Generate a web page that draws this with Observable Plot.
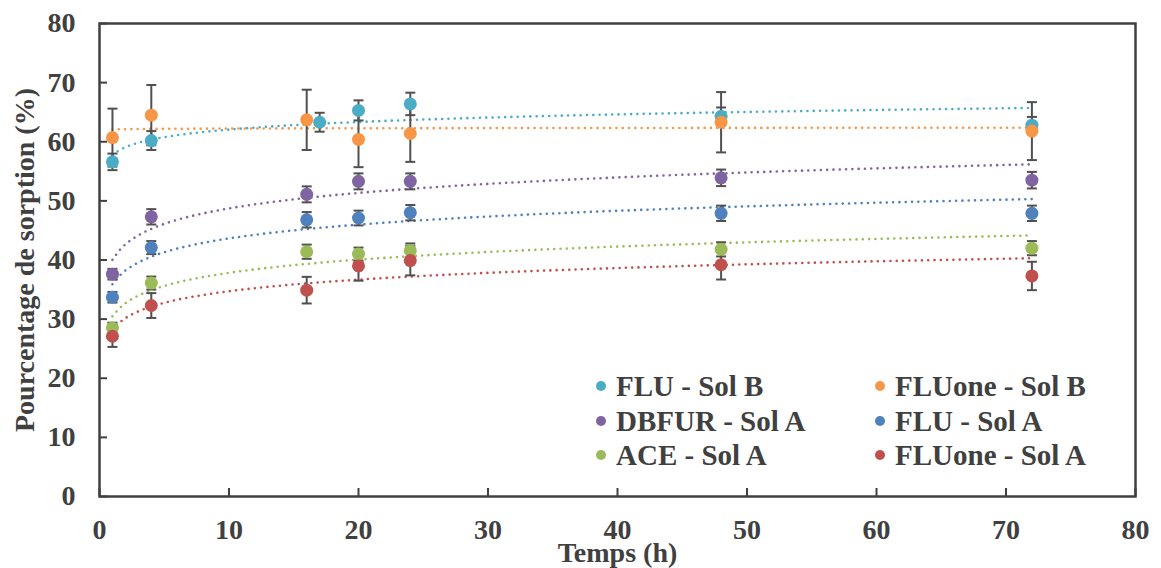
<!DOCTYPE html>
<html><head><meta charset="utf-8">
<script src="https://cdn.jsdelivr.net/npm/d3@7"></script>
<script src="https://cdn.jsdelivr.net/npm/@observablehq/plot@0.6"></script>
<style>
body{margin:0;background:#fff;}
#wrap{position:relative;width:1161px;height:568px;font-family:"Liberation Serif","Times New Roman",serif;font-weight:bold;color:#404040;}
#legend{position:absolute;left:596px;top:369px;display:grid;grid-template-columns:279px auto;grid-auto-rows:34.5px;font-size:29px;line-height:34.5px;}
.item{display:flex;align-items:center;white-space:nowrap;}
.sw{width:10px;height:10px;border-radius:50%;margin-right:10px;flex:none;}
</style></head><body><div id="wrap"><div id="legend"></div></div>
<script>
// Series (legend order)
const series = ["FLU - Sol B", "FLUone - Sol B", "DBFUR - Sol A", "FLU - Sol A", "ACE - Sol A", "FLUone - Sol A"];
const colors = ["#4BACC6", "#F79646", "#8064A2", "#4F81BD", "#9BBB59", "#C0504D"];

// Sampling times (h)
const timesFluB = [1, 4, 17, 20, 24, 48, 72];
const timesOther = [1, 4, 16, 20, 24, 48, 72];

// Sorption percentages and error bars
const valFluB = [56.6, 60.2, 63.3, 65.3, 66.4, 64.3, 62.8];
const errFluB = [1.4, 1.6, 1.6, 1.7, 1.9, 1.5, 1.4];
const valFluoneB = [60.7, 64.5, 63.7, 60.4, 61.4, 63.3, 61.8];
const errFluoneB = [4.9, 5.1, 5.1, 4.7, 4.8, 5.1, 4.9];
const valDbfurA = [37.6, 47.3, 51.1, 53.3, 53.3, 53.9, 53.5];
const errDbfurA = [0.9, 1.3, 1.35, 1.35, 1.35, 1.4, 1.4];
const valFluA = [33.7, 42.1, 46.8, 47.1, 48.0, 47.9, 47.9];
const errFluA = [0.9, 1.1, 1.3, 1.25, 1.3, 1.3, 1.3];
const valAceA = [28.5, 36.1, 41.4, 41.0, 41.6, 41.8, 42.0];
const errAceA = [0.9, 1.1, 1.2, 1.1, 1.2, 1.2, 1.2];
const valFluoneA = [27.1, 32.3, 34.9, 39.0, 39.9, 39.2, 37.3];
const errFluoneA = [1.8, 2.1, 2.25, 2.5, 2.5, 2.5, 2.4];

// Axis ticks
const xTicks = [0, 10, 20, 30, 40, 50, 60, 70, 80];
const yTicks = [0, 10, 20, 30, 40, 50, 60, 70, 80];
const xTitle = "Temps (h)";
const yTitle = "Pourcentage de sorption (%)";

const seriesTimes = [timesFluB, timesOther, timesOther, timesOther, timesOther, timesOther];
const seriesVals = [valFluB, valFluoneB, valDbfurA, valFluA, valAceA, valFluoneA];
const seriesErrs = [errFluB, errFluoneB, errDbfurA, errFluA, errAceA, errFluoneA];

const rows = [];
series.forEach((s, i) => seriesTimes[i].forEach((t, j) =>
  rows.push({series: s, t, v: seriesVals[i][j], e: seriesErrs[i][j]})));

// Logarithmic trend lines (least squares of y on ln t), as in the source chart
const trend = [];
series.forEach((s, i) => {
  const lx = seriesTimes[i].map(Math.log), ys = seriesVals[i];
  const mx = d3.mean(lx), my = d3.mean(ys);
  const b = d3.sum(lx, (x, k) => (x - mx) * (ys[k] - my)) / d3.sum(lx, x => (x - mx) ** 2);
  const a = my - b * mx;
  const t0 = d3.min(seriesTimes[i]), t1 = d3.max(seriesTimes[i]);
  for (let t = t0; t <= t1 + 1e-9; t += 0.5) trend.push({series: s, t, y: a + b * Math.log(t)});
});

const cap = {draw(ctx) { ctx.moveTo(-5, 0); ctx.lineTo(5, 0); }};
const barColor = "#505050";
const axisColor = "#404040";
const serif = "'Liberation Serif', 'Times New Roman', serif";
const txt = {fontFamily: serif, fontWeight: "bold", fontSize: 28, fill: "#404040"};

const chart = Plot.plot({
  width: 1161, height: 568,
  marginLeft: 99, marginRight: 26, marginTop: 23, marginBottom: 72,
  style: {fontFamily: serif, fontWeight: "bold", fontSize: "28px", color: "#404040", background: "#fff", overflow: "visible"},
  x: {domain: [0, 80], label: null},
  y: {domain: [0, 80], label: null},
  color: {domain: series, range: colors},
  marks: [
    Plot.line(trend, {x: "t", y: "y", z: "series", stroke: "series", strokeWidth: 2.6, strokeDasharray: "0,6.3", strokeLinecap: "round"}),
    Plot.ruleX(rows, {x: "t", y1: d => d.v - d.e, y2: d => d.v + d.e, stroke: barColor, strokeWidth: 2}),
    Plot.dot(rows, {x: "t", y: d => d.v + d.e, symbol: cap, stroke: barColor, strokeWidth: 2}),
    Plot.dot(rows, {x: "t", y: d => d.v - d.e, symbol: cap, stroke: barColor, strokeWidth: 2}),
    Plot.dot(rows, {x: "t", y: "v", fill: "series", r: 6.5}),
    Plot.frame({stroke: axisColor, strokeWidth: 2.5}),
    Plot.axisX({ticks: xTicks, tickSize: -8, tickFormat: () => "", stroke: axisColor, strokeWidth: 2, label: null}),
    Plot.axisX({ticks: xTicks, tickSize: 0, tickPadding: 23, label: null, ...txt}),
    Plot.axisY({ticks: yTicks, tickSize: -8, tickFormat: () => "", stroke: axisColor, strokeWidth: 2, label: null}),
    Plot.axisY({ticks: yTicks, tickSize: 0, tickPadding: 24, label: null, ...txt}),
    Plot.text([xTitle], {frameAnchor: "bottom", lineAnchor: "middle", textAnchor: "middle", dy: 57, text: d => d, ...txt}),
    Plot.text([yTitle], {frameAnchor: "left", lineAnchor: "middle", textAnchor: "middle", rotate: -90, dx: -74, text: d => d, ...txt})
  ]
});
const wrap = document.getElementById("wrap");
wrap.insertBefore(chart, wrap.firstChild);

const legend = document.getElementById("legend");
series.forEach((s, i) => {
  const item = document.createElement("div");
  item.className = "item";
  const sw = document.createElement("span");
  sw.className = "sw";
  sw.style.background = colors[i];
  item.appendChild(sw);
  item.appendChild(document.createTextNode(s));
  legend.appendChild(item);
});
</script>
</body></html>
